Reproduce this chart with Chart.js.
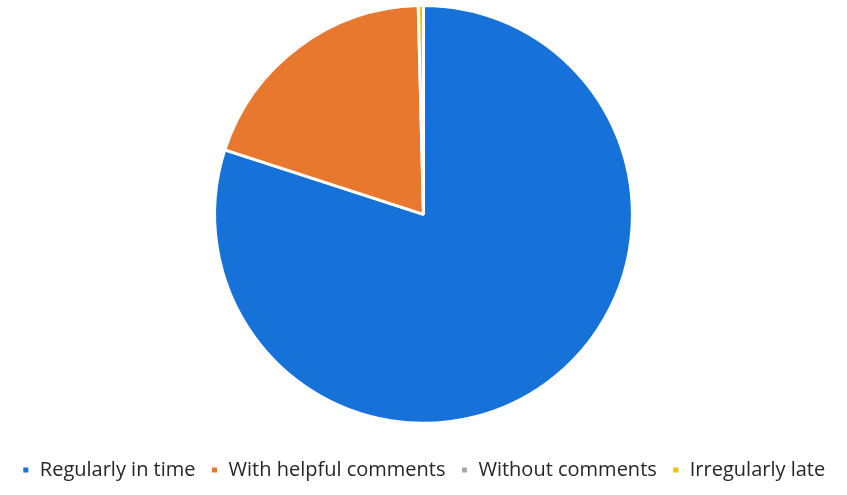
<!DOCTYPE html>
<html>
<head>
<meta charset="utf-8">
<script src="https://cdn.jsdelivr.net/npm/chart.js@4"></script>
<style>
  html, body { margin: 0; padding: 0; background: #fff; }
  #wrap { width: 847px; height: 495px; }
</style>
</head>
<body>
<div id="wrap"><canvas id="pie-chart" width="847" height="495"></canvas></div>
<script>
const categories = ["Regularly in time", "With helpful comments", "Without comments", "Irregularly late"];
const shares = [80.0, 19.6, 0, 0.4];
const sliceColors = ["#1672d9", "#e9782f", "#a8a8a8", "#f2c200"];

const ctx = document.getElementById("pie-chart").getContext("2d");

const pieChart = new Chart(ctx, {
    type: "pie",
    data: {
        labels: categories,
        datasets: [
            {
                data: shares,
                backgroundColor: sliceColors,
                borderColor: "#ffffff",
                borderWidth: 3
            }
        ]
    },
    options: {
        responsive: false,
        animation: false,
        layout: {
            padding: { top: 4, bottom: 5 }
        },
        plugins: {
            legend: {
                position: "bottom",
                // empty title just to push the legend row down from the pie
                title: {
                    display: true,
                    text: " ",
                    font: { size: 1 },
                    padding: { top: 0, bottom: 19 }
                },
                labels: {
                    boxWidth: 8,
                    boxHeight: 8,
                    padding: 15,
                    color: "#262626",
                    font: { family: "Open Sans", size: 20 }
                }
            },
            tooltip: { enabled: false }
        }
    }
});
</script>
</body>
</html>
